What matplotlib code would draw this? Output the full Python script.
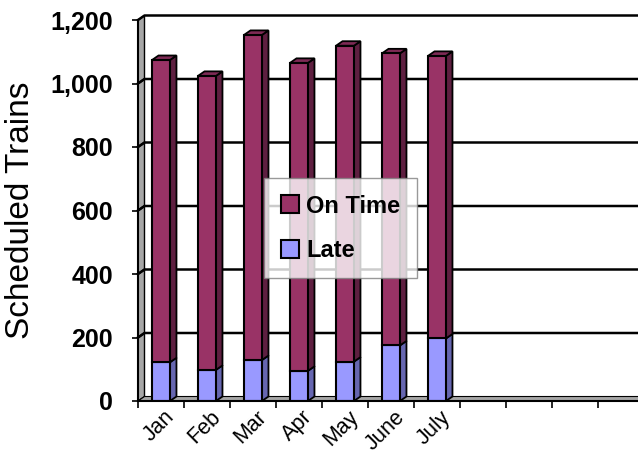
import matplotlib
matplotlib.use("Agg")
import matplotlib.pyplot as plt
from matplotlib.patches import Polygon
from matplotlib.lines import Line2D
from matplotlib.transforms import ScaledTranslation

# Monthly scheduled trains, split by punctuality
months = ["Jan", "Feb", "Mar", "Apr", "May", "June", "July"]
late = [122, 98, 129, 95, 124, 175, 197]
on_time = [952, 926, 1024, 970, 995, 920, 890]
n_slots = 12
y_ticks = [0, 200, 400, 600, 800, 1000, 1200]
y_tick_labels = ["0", "200", "400", "600", "800", "1,000", "1,200"]

ON_TIME = "#993366"
ON_TIME_SIDE = "#5E1F40"
ON_TIME_TOP = "#7E2A55"
LATE = "#9999FF"
LATE_SIDE = "#6666B0"
WALL = "#A6A6A6"

W, H = 638, 453
fig = plt.figure(figsize=(W / 100, H / 100), dpi=100)
fig.patch.set_facecolor("white")

ax_l, ax_b, ax_w, ax_h = 138, 52, 552, 381  # pixels
ax = fig.add_axes([ax_l / W, ax_b / H, ax_w / W, ax_h / H])
ax.set_xlim(-0.5, n_slots - 0.5)
ax.set_ylim(0, 1200)
ax.set_facecolor("none")

# depth offset of the 3-D look, converted from pixels to data units
px_x = n_slots / ax_w
px_y = 1200 / ax_h
dx, dy = 6.5 * px_x, 4.5 * px_y
x0, x1 = -0.5, n_slots - 0.5

# back wall and its gridlines
ax.add_patch(Polygon([(x0 + dx, dy), (x1 + dx, dy), (x1 + dx, 1200 + dy),
                      (x0 + dx, 1200 + dy)], closed=True, facecolor="white",
                     edgecolor="none", clip_on=False, zorder=1))
for v in y_ticks[1:]:
    ax.add_line(Line2D([x0, x0 + dx, x1 + dx], [v, v + dy, v + dy],
                       color="black", lw=1.8, clip_on=False, zorder=2))

# left side wall
ax.add_patch(Polygon([(x0, 0), (x0 + dx, dy), (x0 + dx, 1200 + dy), (x0, 1200)],
                     closed=True, facecolor=WALL, edgecolor="black", lw=1.0,
                     clip_on=False, zorder=1.5))
for v in y_ticks[1:-1]:
    ax.add_line(Line2D([x0, x0 + dx], [v, v + dy], color="black", lw=1.5,
                       clip_on=False, zorder=2))
# floor
ax.add_patch(Polygon([(x0, 0), (x1, 0), (x1 + dx, dy), (x0 + dx, dy)],
                     closed=True, facecolor=WALL, edgecolor="black", lw=0.8,
                     clip_on=False, zorder=2.5))

# stacked columns with side and top faces
bw = 0.39
xs = list(range(len(months)))
ax.bar(xs, late, width=bw, color=LATE, edgecolor="black", lw=1.5, zorder=4,
       label="Late")
ax.bar(xs, on_time, width=bw, bottom=late, color=ON_TIME, edgecolor="black",
       lw=1.5, zorder=4, label="On Time")
for x, lt, ot in zip(xs, late, on_time):
    r = x + bw / 2
    l = x - bw / 2
    top = lt + ot
    for y0, y1, c in ((0, lt, LATE_SIDE), (lt, top, ON_TIME_SIDE)):
        ax.add_patch(Polygon([(r, y0), (r + dx, y0 + dy), (r + dx, y1 + dy), (r, y1)],
                             closed=True, facecolor=c, edgecolor="black", lw=1.3,
                             clip_on=False, zorder=3.8))
    ax.add_patch(Polygon([(l, top), (r, top), (r + dx, top + dy), (l + dx, top + dy)],
                         closed=True, facecolor=ON_TIME_TOP, edgecolor="black",
                         lw=1.3, clip_on=False, zorder=3.8))

# axes frame and ticks
for s in ("top", "right"):
    ax.spines[s].set_visible(False)
for s in ("left", "bottom"):
    ax.spines[s].set_linewidth(1.5)
    ax.spines[s].set_zorder(5)
ax.set_yticks(y_ticks)
ax.set_yticklabels(y_tick_labels, fontsize=18, fontweight="bold",
                   family="Liberation Sans")
ax.tick_params(axis="y", length=4, width=1.2, pad=14)
ax.set_xticks(xs)
ax.set_xticklabels(months, rotation=45, ha="right", rotation_mode="anchor",
                   fontsize=15.5, family="Liberation Sans")
ax.tick_params(axis="x", which="major", length=0, pad=4)
shift = ScaledTranslation(2 / 72, 0, fig.dpi_scale_trans)
for lbl in ax.get_xticklabels():
    lbl.set_transform(lbl.get_transform() + shift)
ax.set_xticks([i - 0.5 for i in range(n_slots + 1)], minor=True)
ax.tick_params(axis="x", which="minor", length=5, width=1.2)
ax.set_ylabel("Scheduled Trains", fontsize=24, family="Liberation Sans",
              labelpad=10)

handles, labels = ax.get_legend_handles_labels()
leg = ax.legend(handles[::-1], labels[::-1], loc="upper left",
                bbox_to_anchor=((264 - ax_l) / ax_w, (453 - 178 - ax_b) / ax_h),
                prop={"family": "Liberation Sans", "weight": "bold", "size": 17},
                frameon=True, fancybox=False, edgecolor="#808080",
                handlelength=0.8, handleheight=0.8, handletextpad=0.3,
                labelspacing=0.9, borderpad=0.7, borderaxespad=0)
leg.get_frame().set_linewidth(1.0)
leg.set_zorder(10)

fig.savefig("out.png", dpi=100)
